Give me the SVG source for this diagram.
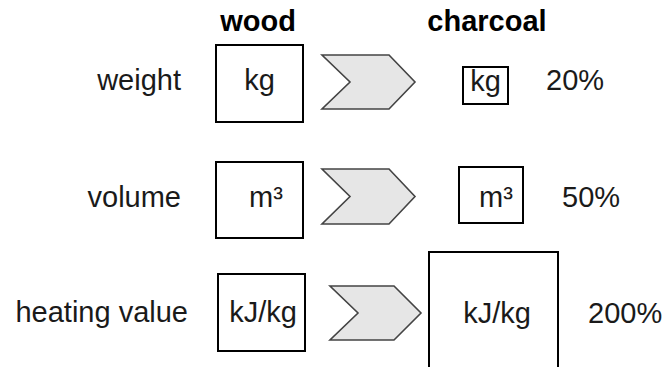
<svg xmlns="http://www.w3.org/2000/svg" width="667" height="367" viewBox="0 0 667 367">
<style>
text{font-family:"Liberation Sans",Arial,sans-serif;font-size:29px;fill:#1a1a1a}
.h{font-weight:bold;fill:#000}
.box{fill:#fff;stroke:#000;stroke-width:2}
.chev{fill:#e6e6e6;stroke:#444;stroke-width:1.6;stroke-linejoin:miter}
</style>
<rect width="667" height="367" fill="#fff"/>
<g id="headers">
<text class="h" x="258" y="31" text-anchor="middle">wood</text>
<text class="h" x="487" y="31" text-anchor="middle">charcoal</text>
</g>
<g id="labels">
<text x="181" y="90" text-anchor="end">weight</text>
<text x="181" y="207" text-anchor="end">volume</text>
<text x="188" y="322" text-anchor="end">heating value</text>
</g>
<g id="wood-kg"><rect class="box" x="216" y="45" width="87" height="77"/><text x="259.5" y="90" text-anchor="middle">kg</text></g>
<g id="wood-m3"><rect class="box" x="216" y="162" width="87" height="76"/><text x="266" y="207" text-anchor="middle">m³</text></g>
<g id="wood-kjkg"><rect class="box" x="218" y="274" width="87" height="77"/><text x="263" y="322" text-anchor="middle">kJ/kg</text></g>
<g id="connectors">
<polygon class="chev" points="322,55 389,55 415,82 389,109 322,109 350,82"/>
<polygon class="chev" points="322,169 389,169 415,196.5 389,224 322,224 350,196.5"/>
<polygon class="chev" points="330,286 394,286 421,313 394,340 330,340 358,313"/>
</g>
<g id="charcoal-kg"><rect class="box" x="463" y="67" width="45" height="37"/><text x="485.5" y="91" text-anchor="middle">kg</text></g>
<g id="charcoal-m3"><rect class="box" x="459" y="167" width="64" height="56"/><text x="496" y="207" text-anchor="middle">m³</text></g>
<g id="charcoal-kjkg"><rect class="box" x="429" y="252" width="129" height="130"/><text x="497" y="323" text-anchor="middle">kJ/kg</text></g>
<g id="percent">
<text x="546" y="90">20%</text>
<text x="562" y="207">50%</text>
<text x="588" y="323">200%</text>
</g>
</svg>
